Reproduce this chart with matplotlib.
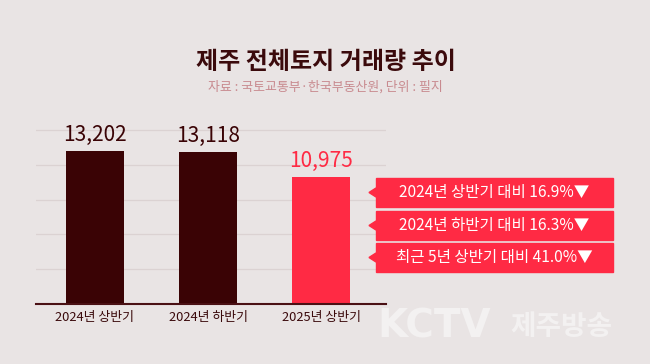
import matplotlib
matplotlib.use('Agg')
from matplotlib import pyplot as plt
from matplotlib.patches import Polygon, Rectangle
import numpy as np

plt.rcParams['font.family'] = ['Noto Sans CJK KR', 'DejaVu Sans']

# data
categories = ['2024년 상반기', '2024년 하반기', '2025년 상반기']
values = [13202, 13118, 10975]
value_labels = ['13,202', '13,118', '10,975']
callouts = ['2024년 상반기 대비 16.9%▼',
            '2024년 하반기 대비 16.3%▼',
            '최근 5년 상반기 대비 41.0%▼']
grid_ticks = [3000, 6000, 9000, 12000, 15000]

title = '제주 전체토지 거래량 추이'
subtitle = '자료 : 국토교통부·한국부동산원, 단위 : 필지'

bg = '#e9e4e4'
dark = '#3a0305'
red = '#ff2a44'

W, H = 650, 364
fig = plt.figure(figsize=(6.5, 3.64), dpi=100, facecolor=bg)

# axes placed in pixel coords: x 36..386, baseline y=304
px_per = 153 / 13202
top = 304 - 16000 * px_per
ax = fig.add_axes([36 / W, (H - 304) / H, 350 / W, (304 - top) / H])
ax.set_facecolor(bg)
x = np.arange(len(categories))
colors = [dark, dark, red]
ax.bar(x, values, width=0.51, color=colors, zorder=3)
ax.set_xlim(-0.522, 2.575)
ax.set_ylim(0, 16000)
for g in grid_ticks:
    ax.axhline(g, color='#dbd2d2', lw=0.9, zorder=1)
for sp in ['top', 'right', 'left']:
    ax.spines[sp].set_visible(False)
ax.spines['bottom'].set_color('#4a1014')
ax.spines['bottom'].set_linewidth(1.5)
ax.spines['bottom'].set_zorder(4)
ax.set_yticks([])
ax.set_xticks(x)
ax.set_xticklabels(categories, fontsize=9.3, color='#3b0a0c')
ax.tick_params(axis='x', length=0, pad=5)

for xi, v, lab, c in zip(x, values, value_labels, colors):
    ax.text(xi, v + 400, lab, ha='center', va='bottom', fontsize=15,
            color=c, zorder=5)

# title
fig.text(326 / W, (H - 62) / H, title, ha='center', va='center', fontsize=17.3,
         fontweight='bold', color='#3b0a0c')
fig.text(325 / W, (H - 87) / H, subtitle, ha='center', va='center', fontsize=9.3,
         color='#c88a8f')

# callout boxes
box_tops = [178, 211, 243]
box_h = 29
bx0, bx1 = 376, 613
for t, txt in zip(box_tops, callouts):
    y0 = (H - t - box_h) / H
    fig.patches.append(Rectangle((bx0 / W, y0), (bx1 - bx0) / W, box_h / H,
                                 transform=fig.transFigure, color=red,
                                 zorder=5))
    cy = t + box_h / 2
    tri = [(bx0 / W, (H - cy + 4.5) / H), (369 / W, (H - cy) / H),
           (bx0 / W, (H - cy - 4.5) / H)]
    fig.patches.append(Polygon(tri, closed=True, transform=fig.transFigure,
                               color=red, zorder=5))
    fig.text((bx0 + bx1) / 2 / W, (H - cy) / H, txt, ha='center',
             va='center', fontsize=11.2, color='white', zorder=6)

# watermark
fig.text(377 / W, (H - 327) / H, 'KCTV', ha='left', va='center',
         fontsize=28, fontweight='bold', color='#f3f1f1',
         family='DejaVu Sans')
fig.text(510 / W, (H - 327) / H, '제주방송', ha='left', va='center',
         fontsize=20, fontweight='bold', color='#f3f1f1')

plt.savefig('out.png', dpi=100, facecolor=bg)
